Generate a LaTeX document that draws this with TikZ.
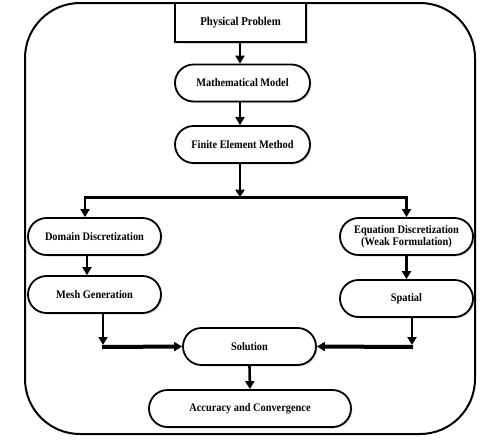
\documentclass[tikz,border=0pt]{standalone}
\usepackage{fontspec}
\setmainfont[FakeStretch=0.9]{Liberation Serif}
\usepackage{tikz}
\usetikzlibrary{arrows.meta,calc,positioning,shapes.misc,shadows}
\usepackage{xcolor}
\definecolor{ink}{HTML}{000000}
\tikzset{frame/.style={draw=ink,line width=2pt,rounded corners=55pt}, stepbox/.style={draw=ink,fill=white,line width=1.8pt,rounded rectangle,minimum width=137pt,minimum height=37pt,inner sep=2pt,font=\fontsize{11.5}{12.5}\selectfont\bfseries,align=center,drop shadow={shadow xshift=1.5pt,shadow yshift=-1.5pt,opacity=.3}}, topbox/.style={stepbox,rectangle,minimum width=131pt,minimum height=39pt,font=\fontsize{12}{13}\selectfont\bfseries}, flow/.style={draw=ink,line width=2.6pt,-{Triangle[length=8pt,width=9pt]}}, bar/.style={draw=ink,line width=2.6pt}, thickflow/.style={flow,line width=4pt}}

\begin{document}
\begin{tikzpicture}[x=1pt,y=-1pt]
\useasboundingbox (0,0) rectangle (480,440);
\draw[frame] (25,3) rectangle (475,434);
\node[topbox] (phys) at (240.5,22.5) {Physical Problem};
\node[stepbox,minimum width=139pt] (math) at (242.5,83) {Mathematical Model};
\node[stepbox,minimum width=139pt] (fem) at (242.5,144.5) {Finite Element Method};
\node[stepbox] (dom) at (94.5,236.5) {Domain Discretization};
\node[stepbox] (eqn) at (406.5,236.5) {Equation Discretization\\(Weak Formulation)};
\node[stepbox] (mesh) at (94.5,294.5) {Mesh Generation};
\node[stepbox] (spat) at (406.5,298.5) {Spatial};
\node[stepbox] (sol) at (249.5,346.5) {Solution};
\node[stepbox,minimum width=206pt] (acc) at (250,408.5) {Accuracy and Convergence};
% branch points
\coordinate (sl) at (85,197.5);\coordinate (sr) at (406.5,197.5);
\coordinate (ml) at (103,347);\coordinate (mr) at (412,347);
\draw[flow] (phys.south -| 240,0) -- (math.north -| 240,0);
\draw[flow] (math.south -| 240,0) -- (fem.north -| 240,0);
\draw[flow] (fem.south -| 240,0) -- (240,197.5);
\draw[bar] ([xshift=-1.3pt]sl) -- ([xshift=1.3pt]sr);
\draw[flow] (sl) -- (sl |- dom.north);
\draw[flow] (sr) -- (eqn.north);
\draw[flow] (dom.south -| 87,0) -- (mesh.north -| 87,0);
\draw[flow] (eqn.south -| 406.5,0) -- (spat.north -| 406.5,0);
\draw[flow] (mesh.south -| ml) -- ([yshift=2pt]ml);
\draw[flow] (spat.south -| mr) -- ([yshift=2pt]mr);
\draw[thickflow] ([xshift=-1pt]ml) -- (sol.west);
\draw[thickflow] ([xshift=1pt]mr) -- (sol.east);
\draw[flow] (sol.south) -- (acc.north);
\end{tikzpicture}
\end{document}
